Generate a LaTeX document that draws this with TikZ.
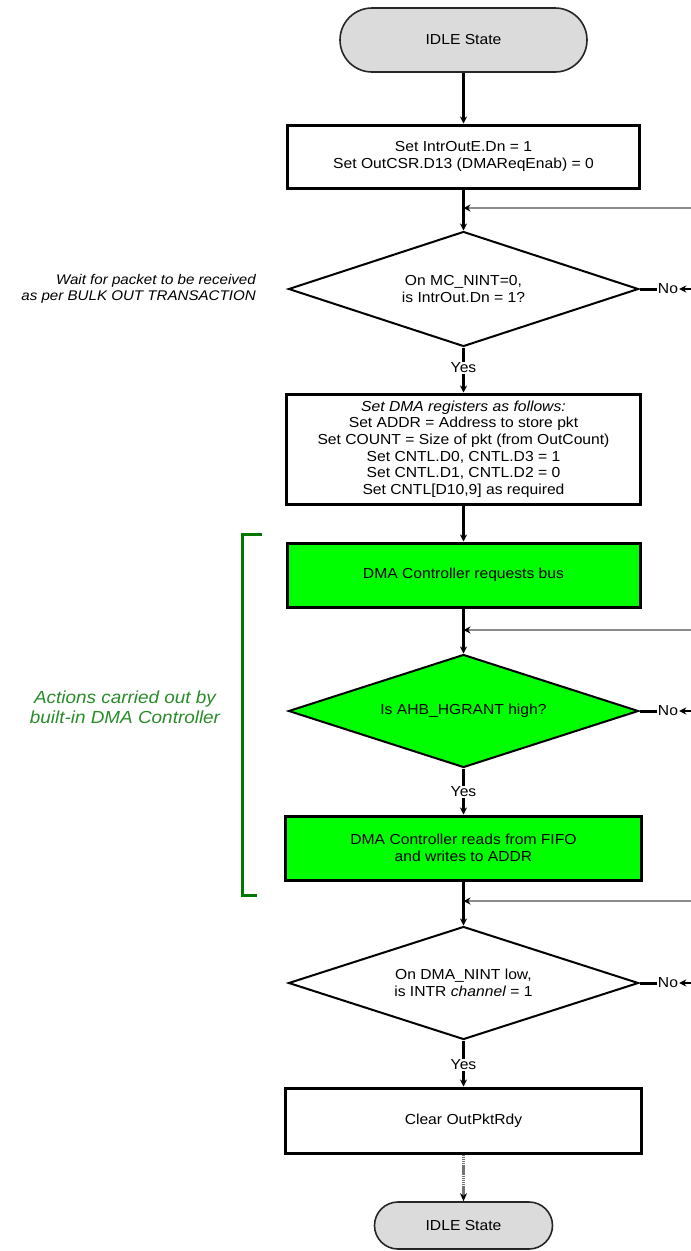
\documentclass[tikz,border=0pt]{standalone}
\usepackage{fontspec}
\setmainfont{Liberation Sans}[FakeStretch=1.08]
\usetikzlibrary{shapes.geometric,arrows.meta}
\definecolor{brightgreen}{RGB}{0,255,0}
\definecolor{darkgr}{RGB}{0,120,0}
\definecolor{txtgr}{RGB}{40,140,40}
\newcommand{\fsz}{\fontsize{14.5}{16.7}\selectfont}
\tikzset{
  term/.style={draw=black!85, line width=1.6pt, fill=black!14, font=\fsz, inner sep=0pt},
  procbox/.style={draw, line width=3pt, font=\fsz, align=center, inner sep=0pt},
  decbox/.style={diamond, draw, line width=2pt, font=\fsz, align=center, inner sep=0pt, aspect=3},
  lbl/.style={font=\fsz, inner sep=1pt},
  conn/.style={line width=3pt, -{Stealth[length=7pt,width=7pt]}},
  plain/.style={line width=3pt},
  fbtip/.style={line width=1.5pt, draw=black!45, -{Stealth[length=7pt,width=7pt,color=black,fill=black]}},
  bracket/.style={line width=3pt, draw=darkgr}
}
\begin{document}
\begin{tikzpicture}[x=1pt,y=-1pt]
\path[use as bounding box] (0,0) rectangle (691,1251);
\clip (0,0) rectangle (691,1251);

% nodes
\node[term, minimum width=247pt, minimum height=64pt, rounded corners=32pt] (t1) at (463.5,40) {IDLE State};
\node[procbox, minimum width=352pt, minimum height=63pt] (b1) at (463.5,156.5) {Set IntrOutE.Dn = 1\\Set OutCSR.D13 (DMAReqEnab) = 0};
\node[decbox, minimum width=350pt, minimum height=115pt] (d1) at (463.5,289) {On MC\_NINT=0,\\is IntrOut.Dn = 1?};
\node[procbox, minimum width=354pt, minimum height=110pt] (b2) at (463.5,449) {\textit{Set DMA registers as follows:}\\Set ADDR = Address to store pkt\\Set COUNT = Size of pkt (from OutCount)\\Set CNTL.D0, CNTL.D3 = 1\\Set CNTL.D1, CNTL.D2 = 0\\Set CNTL[D10,9] as required};
\node[procbox, fill=brightgreen, minimum width=353pt, minimum height=64pt] (g1) at (463.5,575) {DMA Controller requests bus};
\node[decbox, fill=brightgreen, minimum width=350pt, minimum height=113pt] (d2) at (463.5,711) {Is AHB\_HGRANT high?};
\node[procbox, fill=brightgreen, minimum width=356pt, minimum height=64pt] (g2) at (463.5,848) {DMA Controller reads from FIFO\\and writes to ADDR};
\node[decbox, minimum width=350pt, minimum height=113pt] (d3) at (463.5,983) {On DMA\_NINT low,\\is INTR \textit{channel} = 1};
\node[procbox, minimum width=356pt, minimum height=65pt] (b4) at (463.5,1120.5) {Clear OutPktRdy};
\node[term, minimum width=178pt, minimum height=47pt, rounded corners=23.5pt] (t2) at (463.5,1225.5) {IDLE State};

% yes / no labels
\node[lbl] (y1) at (463.5,368) {Yes};
\node[lbl] (y2) at (463.5,792) {Yes};
\node[lbl] (y3) at (463.5,1065) {Yes};
\node[lbl] (n1) at (668,289) {No};
\node[lbl] (n2) at (668,711) {No};
\node[lbl] (n3) at (668,983) {No};

% side texts
\node[font=\fontsize{14}{16}\selectfont\itshape, align=right, anchor=east, inner sep=0pt] (wait) at (256,289) {Wait for packet to be received\\as per BULK OUT TRANSACTION};
\node[font=\fontsize{17.5}{20}\selectfont\itshape, text=txtgr, align=center, inner sep=0pt] (act) at (125,707) {Actions carried out by\\built-in DMA Controller};

% junctions and off-page loop points
\coordinate (j1) at (463.5,208);
\coordinate (j2) at (463.5,630);
\coordinate (j3) at (463.5,901);
\coordinate (e1) at (705,289);
\coordinate (e2) at (705,711);
\coordinate (e3) at (705,983);

% main flow
\draw[conn] (t1.south) -- (b1.north);
\draw[conn] (b1.south) -- (d1.north);
\draw[plain] (d1.south) -- (y1.north);
\draw[conn] (y1.south) -- (b2.north);
\draw[conn] (b2.south) -- (g1.north);
\draw[conn] (g1.south) -- (d2.north);
\draw[plain] (d2.south) -- (y2.north);
\draw[conn] (y2.south) -- (g2.north);
\draw[conn] (g2.south) -- (d3.north);
\draw[plain] (d3.south) -- (y3.north);
\draw[conn] (y3.south) -- (b4.north);
\draw[line width=2.2pt, draw=black!55, dash pattern=on 1.5pt off 0.6pt, -{Stealth[length=8pt,width=7pt,color=black,fill=black]}] (b4.south) -- (t2.north);

% No branches
\draw[plain] (d1.east) -- (n1.west);
\draw[plain] (d2.east) -- (n2.west);
\draw[plain] (d3.east) -- (n3.west);
\draw[line width=2pt, -{Stealth[length=7pt,width=7pt]}] (e1) -- (n1.east);
\draw[line width=2pt, -{Stealth[length=7pt,width=7pt]}] (e2) -- (n2.east);
\draw[line width=2pt, -{Stealth[length=7pt,width=7pt]}] (e3) -- (n3.east);

% loop-backs (run off the right edge)
\draw[fbtip] (e1) -- (e1 |- j1) -- (j1);
\draw[fbtip] (e2) -- (e2 |- j2) -- (j2);
\draw[fbtip] (e3) -- (e3 |- j3) -- (j3);

% bracket
\draw[bracket] (262,534) -- (242,534) -- (242,895) -- (257,895);
\end{tikzpicture}
\end{document}
